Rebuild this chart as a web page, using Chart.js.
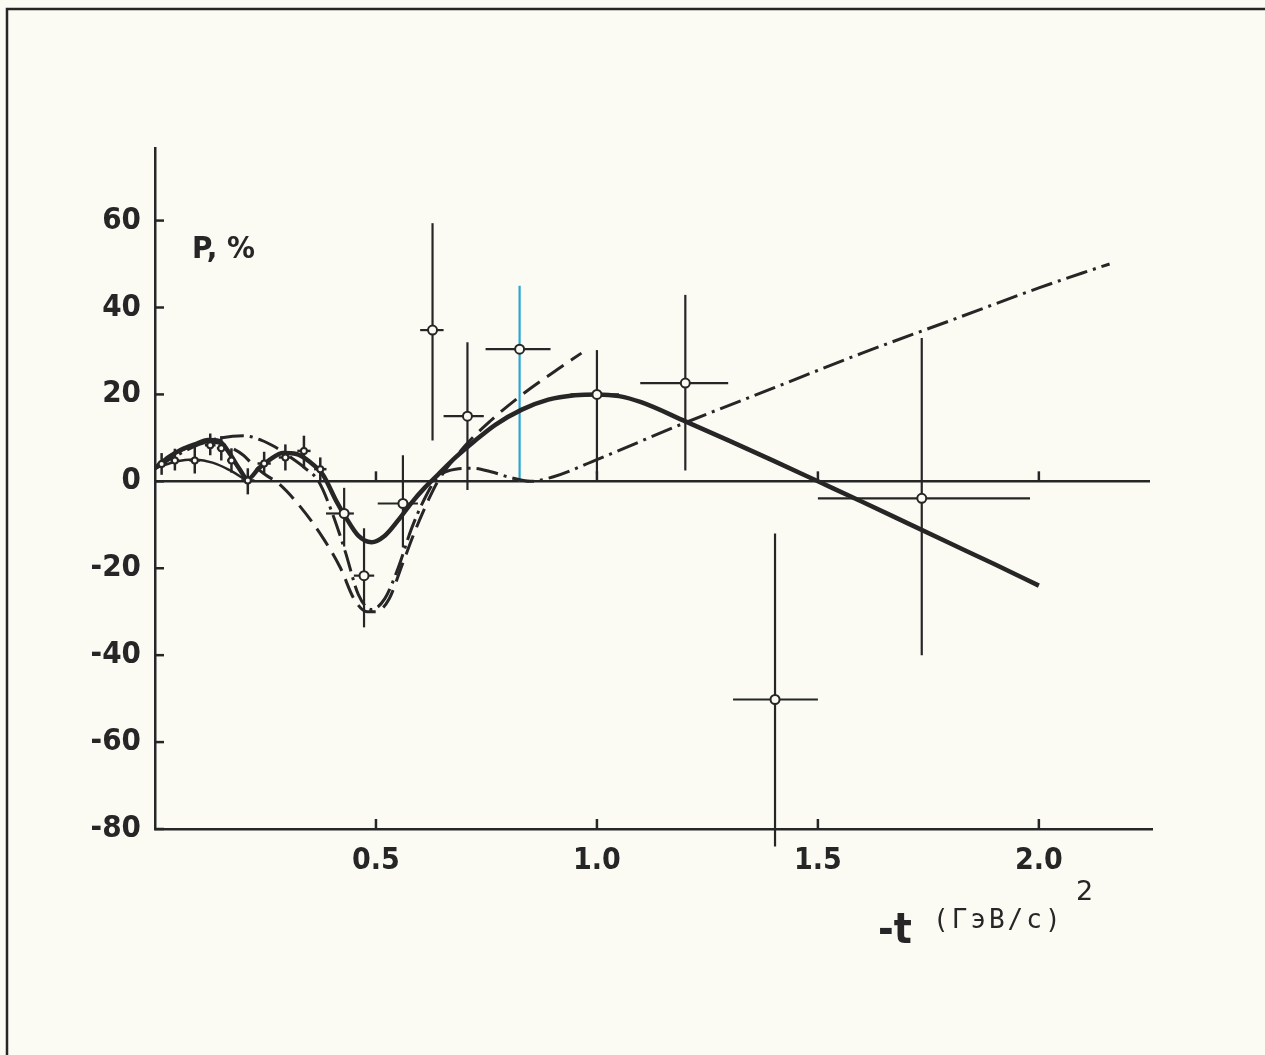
<!DOCTYPE html>
<html>
<head>
<meta charset="utf-8">
<script src="https://cdn.jsdelivr.net/npm/chart.js@4.4.1/dist/chart.umd.min.js"></script>
<style>
  html, body { margin: 0; padding: 0; background: #fbfaf3; }
  canvas { display: block; }
</style>
</head>
<body>
<canvas id="myCanvas" width="1265" height="1055"></canvas>
<script>
// axis ticks
const xTicks = [0.5, 1.0, 1.5, 2.0];
const yTicks = [-80, -60, -40, -20, 0, 20, 40, 60];

// measured polarisation, -t in (GeV/c)^2, P in %
const ptT   = [0.015, 0.045, 0.09, 0.125, 0.15, 0.173, 0.21, 0.247, 0.295, 0.337, 0.374,
               0.428, 0.473, 0.561, 0.628, 0.707, 0.825, 1.0, 1.2, 1.403, 1.735];
const ptP   = [4.0, 4.8, 4.8, 8.3, 7.6, 4.8, 0.2, 4.1, 5.5, 7.0, 2.8,
               -7.4, -21.7, -5.1, 34.8, 15.0, 30.4, 20.0, 22.6, -50.2, -3.9];
const ptTLo = [0.005, 0.035, 0.078, 0.113, 0.14, 0.163, 0.195, 0.232, 0.28, 0.322, 0.36,
               0.387, 0.45, 0.504, 0.6, 0.653, 0.748, 0.94, 1.098, 1.308, 1.5];
const ptTHi = [0.025, 0.055, 0.102, 0.137, 0.16, 0.183, 0.225, 0.262, 0.31, 0.352, 0.388,
               0.45, 0.496, 0.595, 0.653, 0.744, 0.895, 1.05, 1.297, 1.5, 1.98];
const ptPLo = [1.5, 2.5, 1.8, 6.0, 4.8, 2.0, -3.0, 1.5, 2.5, 3.0, 0.0,
               -15.0, -33.6, -15.2, 9.4, -2.0, 0.0, 1.8, 2.5, -84.0, -40.0];
const ptPHi = [6.5, 7.5, 8.0, 11.0, 10.4, 7.6, 3.0, 6.8, 8.5, 10.5, 5.5,
               -1.5, -10.8, 6.0, 59.4, 32.0, 45.0, 30.2, 42.9, -12.0, 33.0];

// solid curve
const solidT = [0, 0.03, 0.06, 0.09, 0.12, 0.145, 0.165, 0.19, 0.21, 0.235, 0.26, 0.29, 0.32, 0.35,
                0.38, 0.41, 0.43, 0.46, 0.49, 0.52, 0.55, 0.58, 0.61, 0.64, 0.68, 0.72, 0.77, 0.83,
                0.89, 0.95, 1.0, 1.05, 1.1, 1.2, 1.3, 1.4, 1.5, 1.6, 1.7, 1.8, 1.9, 2.0];
const solidP = [3, 5.5, 7.3, 8.5, 9.5, 9.3, 7, 3, 0.5, 3, 5, 6.5, 6.3, 4.5,
                1.5, -4.5, -8, -12.5, -14, -12.5, -9, -5, -1.5, 1.5, 5.5, 9, 13, 16.5,
                18.8, 19.8, 20, 19.6, 18.2, 13.8, 9.3, 4.7, 0, -4.7, -9.5, -14.3, -19.1, -24];

// thin arc through the low-t points
const arcT = [0, 0.05, 0.09, 0.13, 0.17, 0.21];
const arcP = [3, 4.6, 5, 4.3, 2.5, 0];

// long-dash curve
const dashT = [0, 0.04, 0.08, 0.13, 0.17, 0.2, 0.22, 0.25, 0.28, 0.33, 0.38, 0.42, 0.45, 0.48,
               0.5, 0.53, 0.56, 0.59, 0.62, 0.64, 0.7, 0.76, 0.825, 0.9, 0.965];
const dashP = [3, 6, 8, 9, 7.8, 6, 4, 1.5, -0.5, -6, -13, -20, -27, -30,
               -30, -27, -19, -11, -4, 0, 8, 14, 19.5, 25, 29.5];

// dash-dot curve
const dotT = [0, 0.05, 0.1, 0.15, 0.2, 0.24, 0.27, 0.3, 0.34, 0.37, 0.4, 0.43, 0.46, 0.49,
              0.52, 0.55, 0.58, 0.61, 0.64, 0.68, 0.72, 0.76, 0.8, 0.85, 0.9, 1.0, 1.2, 1.4,
              1.6, 1.8, 2.0, 2.1, 2.16];
const dotP = [3, 6, 8.5, 10, 10.5, 9.5, 8, 6, 3, 0, -7, -16, -26, -29.5,
              -27, -20, -11, -4, 1, 2.8, 3, 2.2, 1, 0, 1, 5, 13.5, 21.5,
              29.5, 37, 44.5, 48, 50];

const ink = '#262626';
const labelFont = '"DejaVu Sans Condensed", "DejaVu Sans", sans-serif';
const blueBar = 16;

const pairs = (ts, ps) => ts.map((t, i) => ({ x: t, y: ps[i] }));

const decor = {
  id: 'decor',
  beforeDatasetsDraw(chart) {
    const { ctx, chartArea: a } = chart;
    const x = chart.scales.x, y = chart.scales.y;
    const line = (x1, y1, x2, y2) => {
      ctx.beginPath(); ctx.moveTo(x1, y1); ctx.lineTo(x2, y2); ctx.stroke();
    };
    ctx.save();
    ctx.strokeStyle = ink;
    ctx.lineWidth = 2.5;
    // page frame
    ctx.beginPath(); ctx.moveTo(7, 1055); ctx.lineTo(7, 9); ctx.lineTo(1265, 9); ctx.stroke();
    // zero line with ticks
    const y0 = y.getPixelForValue(0);
    line(a.left, y0, a.right - 2, y0);
    xTicks.forEach(v => {
      const px = x.getPixelForValue(v);
      line(px, y0, px, y0 - 10);
      line(px, a.bottom, px, a.bottom - 10);
    });
    yTicks.forEach(v => {
      const py = y.getPixelForValue(v);
      line(a.left, py, a.left + 9, py);
    });
    // error bars
    ptT.forEach((t, i) => {
      const px = x.getPixelForValue(t), py = y.getPixelForValue(ptP[i]);
      ctx.lineWidth = i < 11 ? 2.5 : 2.2;
      ctx.strokeStyle = ink;
      line(x.getPixelForValue(ptTLo[i]), py, x.getPixelForValue(ptTHi[i]), py);
      if (i === blueBar) ctx.strokeStyle = '#2aa6d4';
      line(px, y.getPixelForValue(ptPLo[i]), px, y.getPixelForValue(ptPHi[i]));
    });
    ctx.restore();
  },
  afterDraw(chart) {
    const { ctx } = chart;
    ctx.save();
    ctx.fillStyle = ink;
    ctx.textBaseline = 'alphabetic';
    ctx.textAlign = 'left';
    ctx.font = 'bold 31px ' + labelFont;
    ctx.fillText('P, %', 192, 258);
    ctx.font = 'bold 42px ' + labelFont;
    ctx.fillText('-t', 878, 943);
    ctx.font = '26px "DejaVu Sans Mono", monospace';
    ctx.letterSpacing = '3px';
    ctx.fillText('(ГэВ/c)', 933, 928);
    ctx.letterSpacing = '0px';
    ctx.font = '27px "DejaVu Sans", sans-serif';
    ctx.fillText('2', 1076, 900);
    ctx.restore();
  }
};

new Chart(document.getElementById('myCanvas').getContext('2d'), {
  type: 'scatter',
  data: {
    datasets: [{
      label: 'data',
      data: pairs(ptT, ptP),
      pointRadius: c => (ptT[c.dataIndex] < 0.4 ? 3 : 4.5),
      pointBackgroundColor: '#fbfaf3',
      pointBorderColor: ink,
      pointBorderWidth: 2,
      showLine: false
    }, {
      label: 'solid',
      data: pairs(solidT, solidP),
      showLine: true, pointRadius: 0,
      borderColor: ink, borderWidth: 4.5,
      cubicInterpolationMode: 'monotone'
    }, {
      label: 'arc',
      data: pairs(arcT, arcP),
      showLine: true, pointRadius: 0,
      borderColor: ink, borderWidth: 2.5,
      tension: 0.4
    }, {
      label: 'dash',
      data: pairs(dashT, dashP),
      showLine: true, pointRadius: 0,
      borderColor: ink, borderWidth: 3,
      borderDash: [20, 9],
      cubicInterpolationMode: 'monotone'
    }, {
      label: 'dashdot',
      data: pairs(dotT, dotP),
      showLine: true, pointRadius: 0,
      borderColor: ink, borderWidth: 3,
      borderDash: [22, 6, 3, 6],
      cubicInterpolationMode: 'monotone'
    }]
  },
  options: {
    responsive: false,
    animation: false,
    events: [],
    layout: { padding: { left: 0, top: 148, right: 113, bottom: 0 } },
    scales: {
      x: {
        type: 'linear',
        min: 0, max: 2.256,
        afterBuildTicks: s => { s.ticks = xTicks.map(v => ({ value: v })); },
        afterFit: s => { s.height = 226; },
        grid: { display: false, drawTicks: false },
        border: { display: true, color: ink, width: 2.5 },
        ticks: {
          color: ink, padding: 14,
          font: { family: labelFont, size: 30, weight: 'bold' },
          callback: v => v.toFixed(1)
        }
      },
      y: {
        min: -80, max: 76.7,
        afterBuildTicks: s => { s.ticks = yTicks.map(v => ({ value: v })); },
        afterFit: s => { s.width = 155; },
        grid: { display: false, drawTicks: false },
        border: { display: true, color: ink, width: 2.5 },
        ticks: {
          color: ink, padding: 14,
          font: { family: labelFont, size: 31, weight: 'bold' },
          callback: v => String(v)
        }
      }
    },
    plugins: { legend: { display: false }, tooltip: { enabled: false } }
  },
  plugins: [decor]
});
</script>
</body>
</html>
